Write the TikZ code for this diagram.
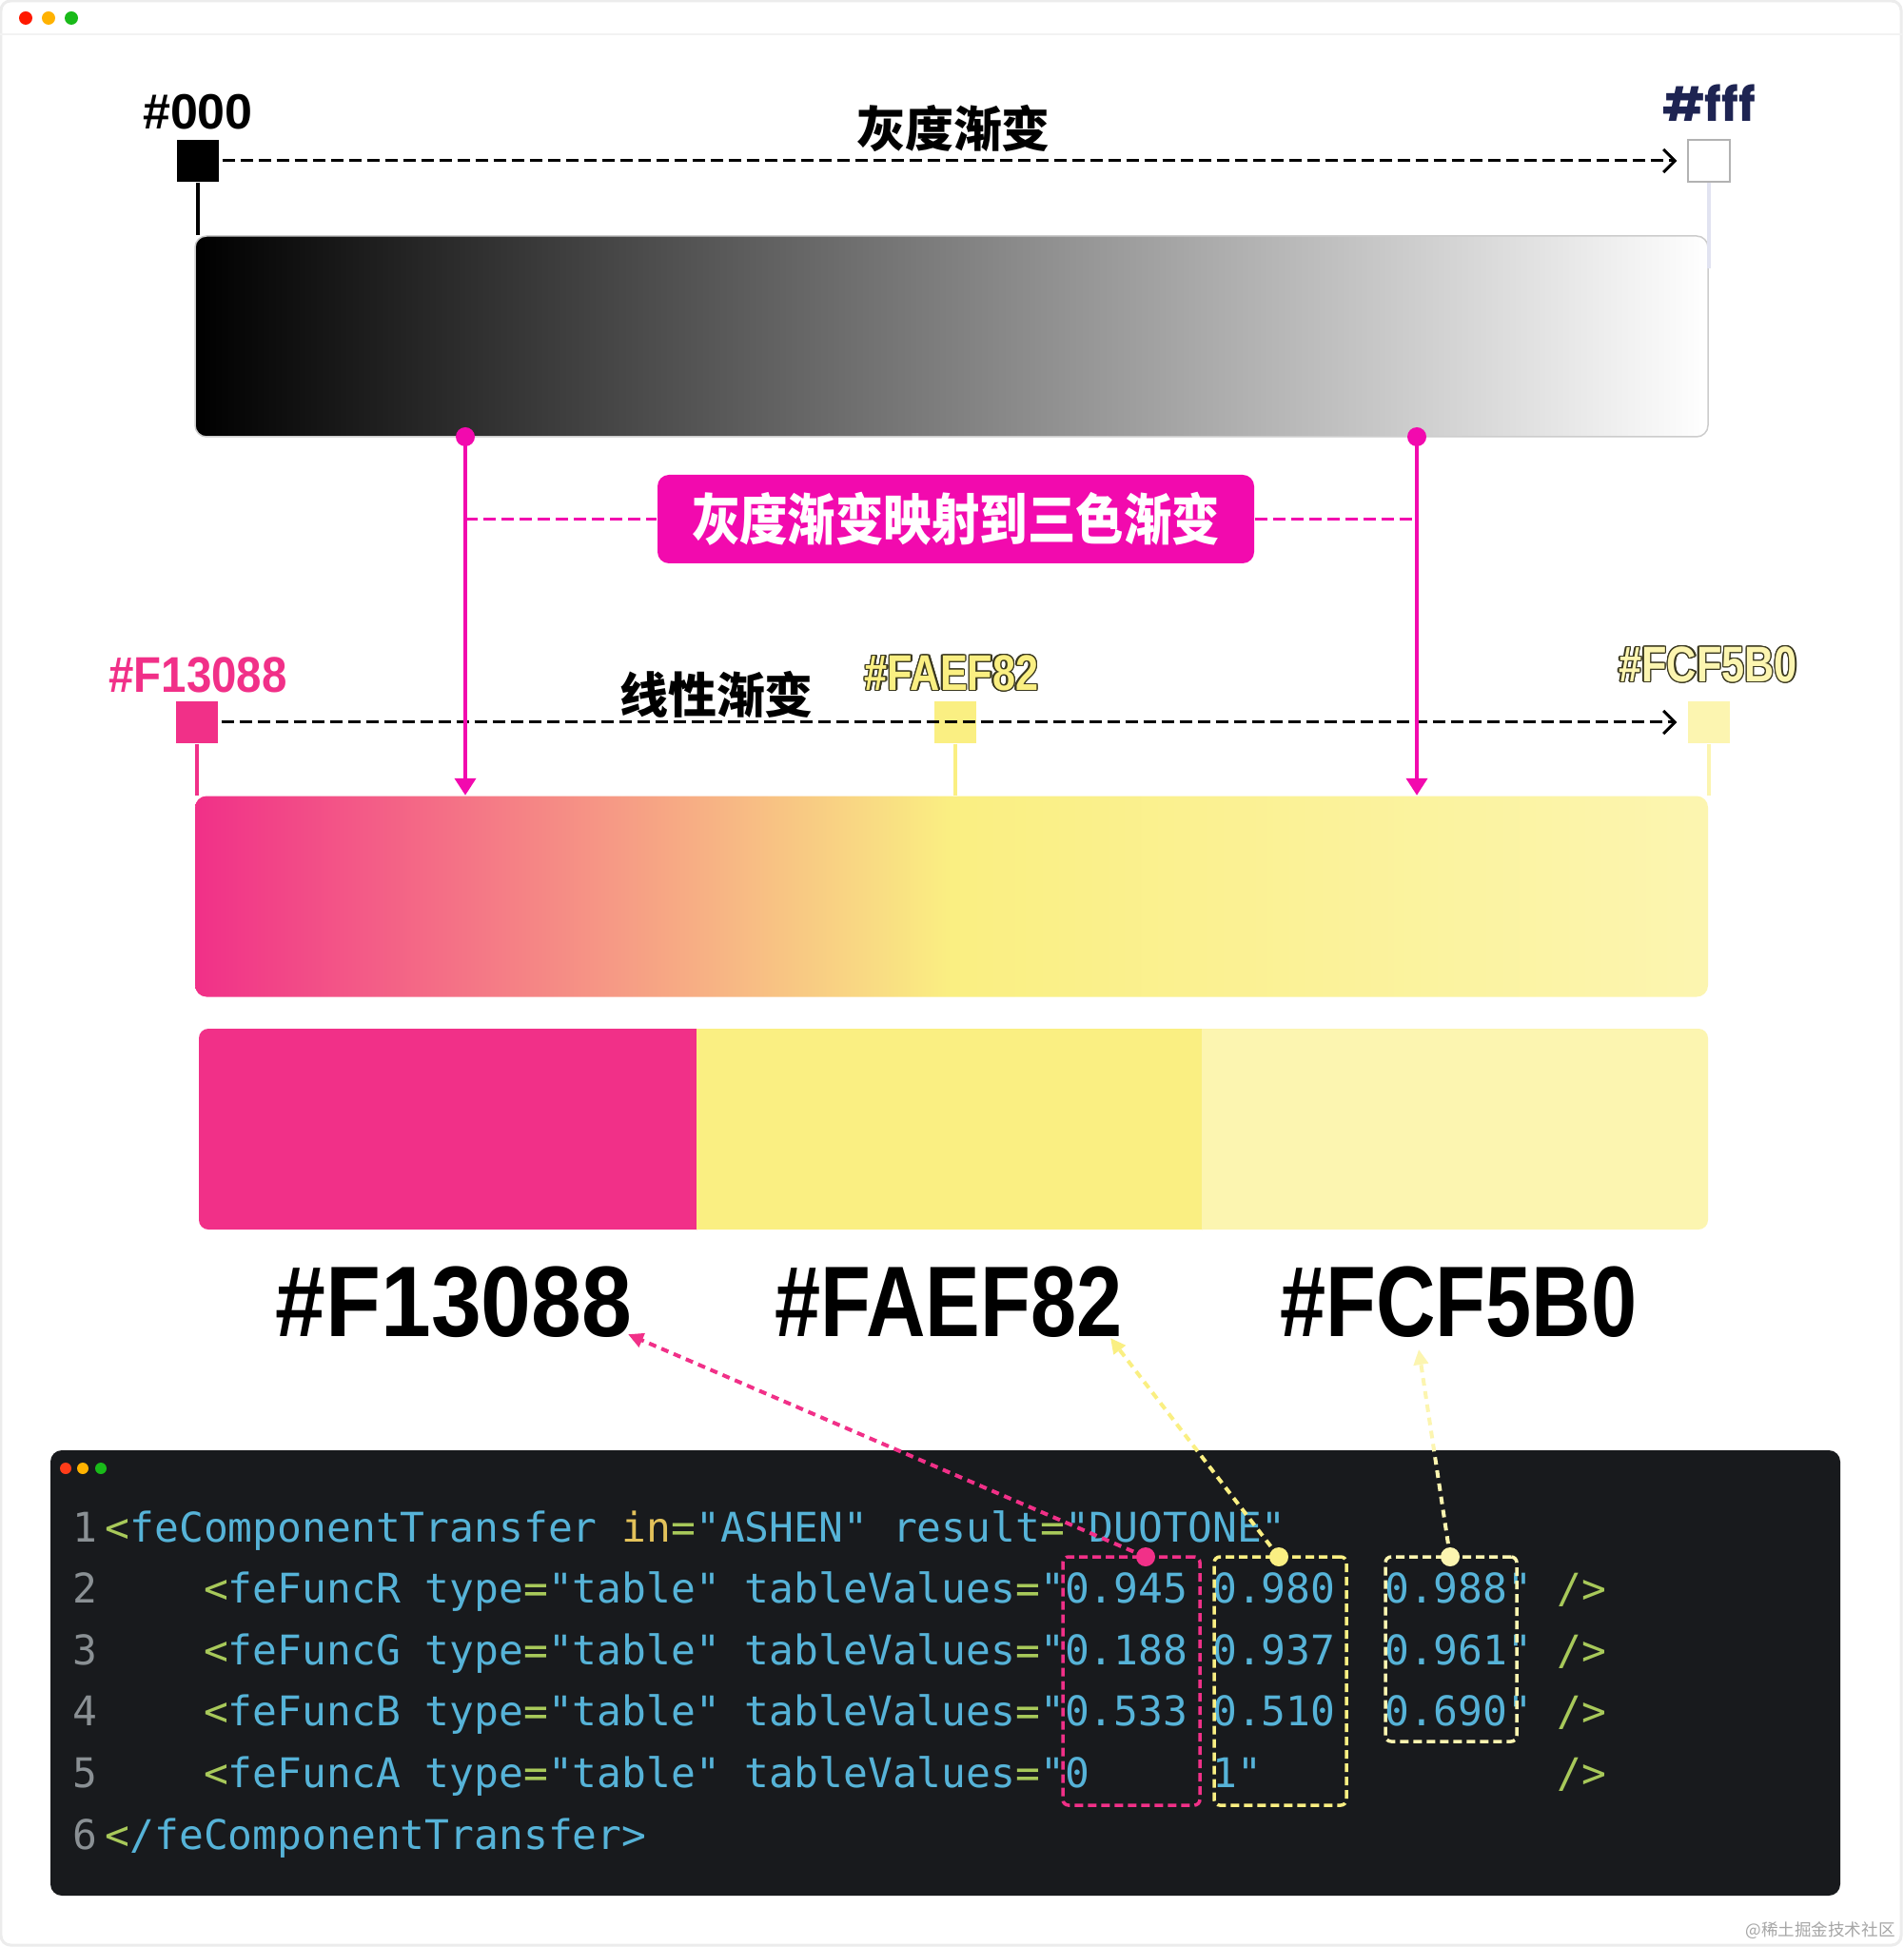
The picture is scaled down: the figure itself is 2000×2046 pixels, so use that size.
\documentclass[tikz,border=0pt]{standalone}
\usepackage{fontspec}
\usepackage{contour}
\usetikzlibrary{arrows.meta, positioning, calc}

\setmainfont{Liberation Sans}
\newfontfamily\cjkfont{Noto Sans CJK SC}
\newfontfamily\cjkcond[FakeStretch=0.87]{Noto Sans CJK SC}
\newfontfamily\hexfont[FakeStretch=0.82]{Liberation Sans}
\newfontfamily\hexwide[FakeStretch=0.9]{Liberation Sans}
\newfontfamily\codefont{DejaVu Sans Mono}
\newfontfamily\roundfont{Poppins}

\definecolor{hexpink}{HTML}{F13088}
\definecolor{hexyellow}{HTML}{FAEF82}
\definecolor{hexpale}{HTML}{FCF5B0}
\definecolor{magentamap}{HTML}{F20AAE}
\definecolor{navyfff}{HTML}{1E2452}
\definecolor{linelav}{HTML}{E1E3F1}
\definecolor{outlinedark}{HTML}{3A3820}
\definecolor{codebg}{HTML}{181A1D}
\definecolor{codeblue}{HTML}{56B3D8}
\definecolor{codegreen}{HTML}{A8C95A}
\definecolor{codeyellow}{HTML}{E3C25A}
\definecolor{numgray}{HTML}{8A9094}

\pgfdeclarehorizontalshading{duotone}{100bp}{color(0bp)=(hexpink); color(25bp)=(hexpink); color(50bp)=(hexyellow); color(75bp)=(hexpale); color(100bp)=(hexpale)}

\newcommand{\codeB}[1]{\textcolor{codeblue}{#1}}
\newcommand{\codeG}[1]{\textcolor{codegreen}{#1}}
\newcommand{\codeY}[1]{\textcolor{codeyellow}{#1}}
\contourlength{0.4pt}

\begin{document}
\begin{tikzpicture}[
    x=0.1mm, y=-0.1mm,
    swatch/.style={rectangle, minimum size=4.4mm, inner sep=0pt},
    hexsmall/.style={font=\hexfont\bfseries\fontsize{15}{16}\selectfont, inner sep=0pt},
    hexbig/.style={font=\hexfont\bfseries\fontsize{30}{32}\selectfont, inner sep=0pt},
    cjktitle/.style={font=\cjkfont\bfseries\fontsize{14.5}{16}\selectfont, inner sep=0pt},
    gradbar/.style={rectangle, rounded corners=1.2mm, minimum width=159mm, minimum height=21.1mm, inner sep=0pt},
    block/.style={rectangle, minimum height=21.2mm, inner sep=0pt},
    maplabel/.style={rectangle, fill=magentamap, text=white, rounded corners=1.2mm, minimum width=62.7mm, minimum height=9.3mm, inner sep=0pt, font=\cjkcond\bfseries\fontsize{16.5}{18}\selectfont},
    codeline/.style={anchor=base west, inner sep=0pt, font=\codefont\fontsize{12.22}{14}\selectfont},
    codenum/.style={codeline, text=numgray},
    valbox/.style={rectangle, rounded corners=0.6mm, line width=0.35mm, dash pattern=on 0.9mm off 0.5mm, minimum height=26.1mm, inner sep=0pt},
    darrow/.style={-{Straight Barb[length=1.2mm,width=2.4mm]}, line width=0.3mm, dash pattern=on 1.3mm off 0.6mm},
    maparrow/.style={-{Triangle[length=1.8mm,width=2.2mm]}, line width=0.4mm, draw=magentamap},
    pickarrow/.style={-{Triangle[length=1.6mm,width=1.5mm]}, line width=0.4mm, dash pattern=on 0.8mm off 0.6mm},
    stem/.style={line width=0.4mm}
  ]
    \useasboundingbox (0,0) rectangle (2000,2046);
    \fill[white] (0,0) rectangle (2000,2046);

    % window frame
    \draw[gray!15, line width=0.3mm, rounded corners=1mm] (1,1) rectangle (1998,2044);
    \draw[gray!10, line width=0.2mm] (0,36) -- (2000,36);
    \fill[red!80!orange] (27,19) circle[radius=0.7mm];
    \fill[orange!60!yellow] (51,19) circle[radius=0.7mm];
    \fill[green!70!black!90] (75,19) circle[radius=0.7mm];

    % Gray gradient
    \node[hexsmall, font=\bfseries\fontsize{14.8}{16}\selectfont] (lbl000) at (208,118) {\#000};
    \node[font=\roundfont\bfseries\fontsize{14}{16}\selectfont, text=navyfff, inner sep=0pt] (lblfff) at (1796,108) {\#fff};
    \node[cjktitle] (titleGray) at (1002,135) {灰度渐变};
    \node[swatch, fill=black] (sq000) at (208,169) {};
    \node[swatch, fill=white, draw=gray!60, line width=0.15mm] (sqfff) at (1796,169) {};
    \node[gradbar, left color=black, right color=white, draw=gray!40, line width=0.15mm] (grayBar) at (1000,353.5) {};

    \draw[stem] (sq000.south) -- (sq000.south |- grayBar.north);
    \draw[stem, linelav] (sqfff.south) -- ++(0,90);
    \draw[darrow] ([xshift=0.3mm]sq000.east) -- ([xshift=-1.1mm]sqfff.west);

    % Mapping
    \coordinate (dotL) at (489,459);
    \coordinate (dotR) at (1489,459);
    \node[maplabel] (mapLabel) at (1004.5,545.5) {灰度渐变映射到三色渐变};

    % Linear gradient
    \node[hexsmall, font=\hexwide\bfseries\fontsize{15}{16}\selectfont, text=hexpink] (lblA) at (208,709) {\#F13088};
    \node[hexsmall, text=hexyellow] (lblB) at (1000,708) {\contour{outlinedark}{\#FAEF82}};
    \node[hexsmall, text=hexpale] (lblC) at (1795,699) {\contour{outlinedark}{\#FCF5B0}};
    \node[cjktitle] (titleLinear) at (753,730) {线性渐变};
    \node[swatch, fill=hexpink] (sqA) at (207,759) {};
    \node[swatch, fill=hexyellow] (sqB) at (1004,759) {};
    \node[swatch, fill=hexpale] (sqC) at (1796,759) {};
    \node[gradbar, shading=duotone] (duoBar) at (1000,942) {};

    \draw[stem, hexpink, line width=0.35mm] (sqA.south) -- (sqA.south |- duoBar.north);
    \draw[stem, hexyellow, line width=0.35mm] (sqB.south) -- (sqB.south |- duoBar.north);
    \draw[stem, hexpale, line width=0.35mm] (sqC.south) -- (sqC.south |- duoBar.north);
    \draw[darrow] ([xshift=0.3mm]sqA.east) -- ([xshift=-1.1mm]sqC.west);

    \draw[maparrow] (dotL) -- (dotL |- duoBar.north);
    \draw[maparrow] (dotR) -- (dotR |- duoBar.north);
    \draw[magentamap, line width=0.3mm, dash pattern=on 1.3mm off 0.6mm] (dotL |- mapLabel) -- (mapLabel.west);
    \draw[magentamap, line width=0.3mm, dash pattern=on 1.3mm off 0.6mm] (mapLabel.east) -- (dotR |- mapLabel);
    \fill[magentamap] (dotL) circle[radius=1mm];
    \fill[magentamap] (dotR) circle[radius=1mm];

    % Three colours
    \begin{scope}
      \clip[rounded corners=1mm] (209,1081) rectangle (1795,1292);
      \node[block, fill=hexpink, minimum width=52.4mm] (blockA) at (470.5,1186.5) {};
      \node[block, fill=hexyellow, minimum width=53.2mm] (blockB) at (997.5,1186.5) {};
      \node[block, fill=hexpale, minimum width=53.3mm] (blockC) at (1529,1186.5) {};
    \end{scope}
    \node[hexbig, font=\hexwide\bfseries\fontsize{30}{32}\selectfont] (hexA) at (477,1368) {\#F13088};
    \node[hexbig] (hexB) at (997,1368) {\#FAEF82};
    \node[hexbig] (hexC) at (1533,1368) {\#FCF5B0};

    % Code
    \node[rectangle, fill=codebg, rounded corners=1.2mm, minimum width=188.1mm, minimum height=46.8mm] (codePanel) at (993.5,1758) {};
    \fill[red!70!orange!90] (69,1543) circle[radius=0.6mm];
    \fill[orange!60!yellow] (87,1543) circle[radius=0.6mm];
    \fill[green!70!black!90] (106,1543) circle[radius=0.6mm];

    \node[codenum] (num1) at (76,1620) {1};
    \node[codenum] (num2) at (76,1684.6) {2};
    \node[codenum] (num3) at (76,1749.2) {3};
    \node[codenum] (num4) at (76,1813.8) {4};
    \node[codenum] (num5) at (76,1878.4) {5};
    \node[codenum] (num6) at (76,1943) {6};

    \node[codeline] (code1) at (110,1620) {\codeG{<}\codeB{feComponentTransfer}~\codeY{in}\codeG{=}\codeB{"ASHEN"}~\codeB{result}\codeG{=}\codeB{"DUOTONE"}};
    \node[codeline] (code2) at (110,1684.6) {~~~~\codeG{<}\codeB{feFuncR}~\codeB{type}\codeG{=}\codeB{"table"}~\codeB{tableValues}\codeG{=}\codeB{"0.945~0.980~~0.988"}~\codeG{/>}};
    \node[codeline] (code3) at (110,1749.2) {~~~~\codeG{<}\codeB{feFuncG}~\codeB{type}\codeG{=}\codeB{"table"}~\codeB{tableValues}\codeG{=}\codeB{"0.188~0.937~~0.961"}~\codeG{/>}};
    \node[codeline] (code4) at (110,1813.8) {~~~~\codeG{<}\codeB{feFuncB}~\codeB{type}\codeG{=}\codeB{"table"}~\codeB{tableValues}\codeG{=}\codeB{"0.533~0.510~~0.690"}~\codeG{/>}};
    \node[codeline] (code5) at (110,1878.4) {~~~~\codeG{<}\codeB{feFuncA}~\codeB{type}\codeG{=}\codeB{"table"}~\codeB{tableValues}\codeG{=}\codeB{"0~~~~~1"}~~~~~~~~~~~~\codeG{/>}};
    \node[codeline] (code6) at (110,1943) {\codeG{<}\codeB{/feComponentTransfer>}};

    % Value columns
    \node[valbox, draw=hexpink, minimum width=14.4mm] (boxR) at (1189,1766.5) {};
    \node[valbox, draw=hexyellow, minimum width=13.9mm] (boxG) at (1345.5,1766.5) {};
    \node[valbox, draw=hexpale, minimum width=13.8mm, minimum height=19.4mm] (boxB) at (1525,1733) {};
    \coordinate (dotPink) at (1204,1636);
    \coordinate (dotYellow) at (1344,1636);
    \coordinate (dotPale) at (1524,1636);

    \draw[pickarrow, hexpink] (dotPink) -- ([xshift=18.3mm,yshift=0.4mm]hexA.south);
    \draw[pickarrow, hexyellow] (dotYellow) -- ([xshift=17mm]hexB.south);
    \draw[pickarrow, hexpale] (dotPale) -- ([xshift=-4.2mm,yshift=-1.2mm]hexC.south);
    \fill[hexpink] (dotPink) circle[radius=1mm];
    \fill[hexyellow] (dotYellow) circle[radius=1mm];
    \fill[hexpale] (dotPale) circle[radius=1mm];

    \node[font=\cjkfont\fontsize{5}{6}\selectfont, text=gray!70, inner sep=0pt] (watermark) at (1913,2029) {@稀土掘金技术社区};
  \end{tikzpicture}
\end{document}
